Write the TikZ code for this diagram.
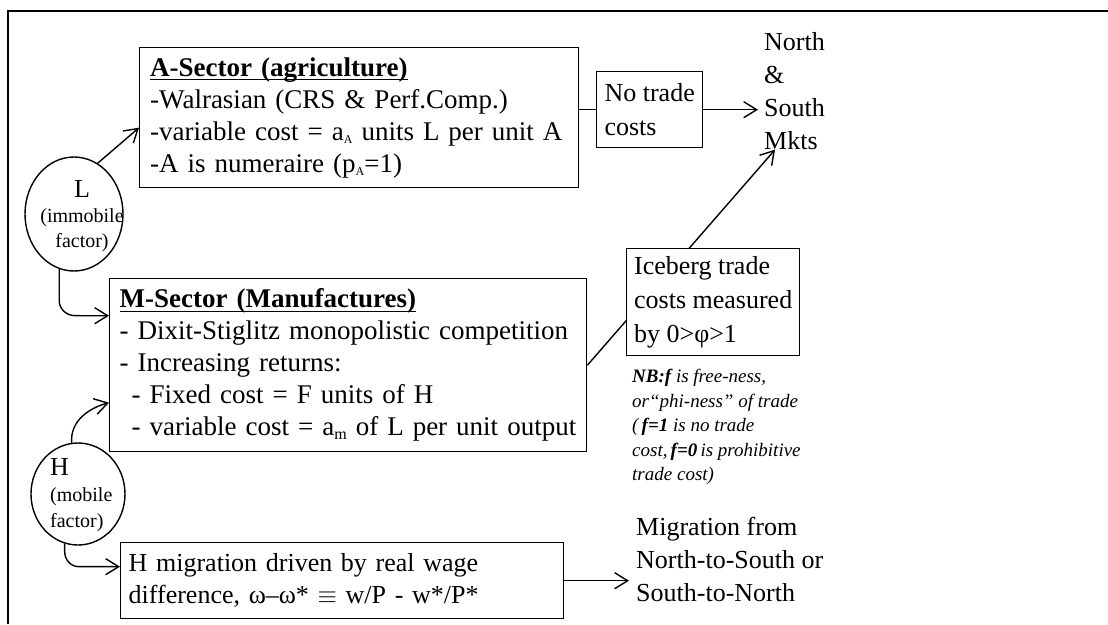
\documentclass[tikz,border=0pt]{standalone}
\usepackage{fontspec}
\setmainfont{Liberation Serif}
\usetikzlibrary{arrows.meta,shapes.geometric}
\newcommand\myul[1]{\setbox0\hbox{#1}\rlap{\rule[-4pt]{\wd0}{1.3pt}}\box0}
\newcommand\mysub[2]{\raisebox{-0.28ex}{\fontsize{#1}{#1}\selectfont #2}}
\tikzset{
  box/.style={draw, line width=1.4pt, rectangle, anchor=north west, align=left, inner ysep=0pt, inner xsep=0pt, fill=white},
  conn/.style={line width=1.4pt},
  arr/.style={conn, -{Straight Barb[length=13pt,width=16pt,line width=1.4pt]}},
  bigtext/.style={font=\fontsize{26}{33}\selectfont, anchor=north west, align=left, inner sep=0pt},
  boxtext/.style={font=\fontsize{27}{32}\selectfont},
  oval/.style={draw, ellipse, line width=1.4pt, inner sep=0pt},
}
\begin{document}
\begin{tikzpicture}[x=1pt,y=-1pt]
\useasboundingbox (0,0) rectangle (1108,624);
% outer frame
\draw[line width=2pt] (8,624) -- (8,11) -- (1108,11);

% factor ovals
\node[oval, minimum width=98pt, minimum height=114pt] (L) at (74,214) {};
\node[inner sep=0pt, align=center, font=\fontsize{20}{25}\selectfont] (Lt) at (82,216.5)
  {{\fontsize{26}{26}\selectfont L}\\(immobile\\factor)};
\node[oval, minimum width=94pt, minimum height=102pt] (H) at (78,494) {};
\node[inner sep=0pt, anchor=west, align=left, font=\fontsize{20}{26}\selectfont] (Ht) at (50,495)
  {{\fontsize{26}{26}\selectfont H}\\(mobile\\factor)};

% A sector
\node[box, boxtext, minimum width=439pt, minimum height=140pt, text width=418pt, inner xsep=10.5pt] (A) at (139,47)
  {\myul{\textbf{A-Sector (agriculture)}}\\
   -Walrasian (CRS \& Perf.Comp.)\\
   -variable cost = a\mysub{12}{A} units L per unit A\\
   -A is numeraire (p\mysub{12}{A}=1)};

% no trade costs
\node[box, font=\fontsize{26}{34}\selectfont, minimum width=106pt, minimum height=76pt] (NT) at (596,71)
  {No trade\\costs};

% markets
\node[bigtext] (North) at (764,32) {North\\\&\\South\\Mkts};

% M sector
\node[box, boxtext, minimum width=477pt, minimum height=173pt, text width=457pt, inner xsep=10pt] (M) at (109,278)
  {\myul{\textbf{M-Sector (Manufactures)}}\\
   - Dixit-Stiglitz monopolistic competition\\
   - Increasing returns:\\
   \hspace*{12pt}- Fixed cost = F units of H\\
   \hspace*{12pt}- variable cost = a\mysub{16}{m} of L per unit output};

% M -> markets line (behind iceberg box)
\coordinate (mk) at ([xshift=11pt]North.south west);
\draw[arr] (M.east) -- (mk);

% iceberg box
\node[box, font=\fontsize{26}{34}\selectfont, minimum width=173pt, minimum height=107pt] (IC) at (626,248)
  {Iceberg trade\\costs measured\\by 0>φ>1};

% NB note
\node[anchor=north west, align=left, inner sep=0pt, font=\fontsize{19}{24.5}\selectfont\itshape] (NB) at (632,369)
  {\textbf{NB:f} is free-ness,\\
   or“phi-ness” of trade\\
   (\,\textbf{f=1} is no trade\\
   cost,\,\textbf{f=0}\,is prohibitive\\
   trade cost)};

% H migration box
\node[box, font=\fontsize{26}{32}\selectfont, minimum width=443pt, minimum height=76pt, text width=427pt, inner xsep=8pt] (HM) at (120,542)
  {H migration driven by real wage\\
   difference, ω–ω* $\equiv$ w/P - w*/P*};

\node[bigtext] (Mig) at (636,517) {Migration from\\North-to-South or\\South-to-North};

% connectors
\draw[arr] (L.65) -- ([yshift=-10pt]A.west);
\draw[arr] (L.255) -- ++(0,31.6) to[out=-90,in=180] ++(16,15) -- ([yshift=49.5pt]M.west);
\draw[arr] (H.97) to[out=95,in=195] ([yshift=-37.5pt]M.west);
\draw[arr] (H.255) -- ++(0,8) to[out=-90,in=180] ++(14,15) -- ([yshift=14pt]HM.west);
\draw[conn] (A.east |- NT.west) -- (NT.west);
\draw[arr] (NT.east) -- ([xshift=-6pt]NT.east -| North.west);
\draw[arr] (HM.east) -- ([xshift=-7pt]HM.east -| Mig.west);
\end{tikzpicture}
\end{document}
